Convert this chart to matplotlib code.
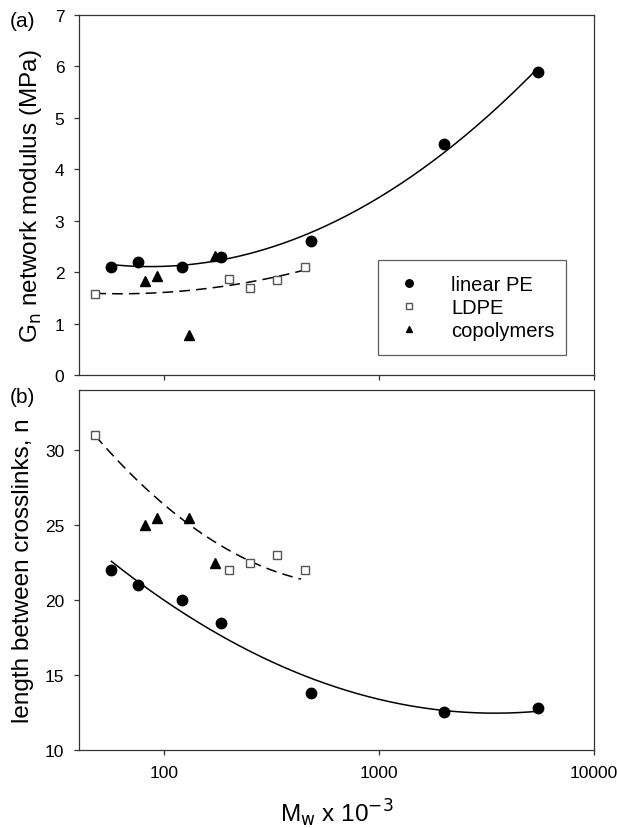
import numpy as np
import matplotlib
matplotlib.use('Agg')
import matplotlib.pyplot as plt

plt.rcParams['font.family'] = ['Liberation Sans', 'DejaVu Sans']

# molecular weights (x 10^-3)
mw_pe = [57, 76, 121, 185, 482, 2006, 5490]
mw_ldpe = [48, 200, 250, 334, 452]
mw_co = [82, 93, 131, 172]

# (a) network modulus, MPa
gn_pe = [2.1, 2.2, 2.1, 2.3, 2.6, 4.5, 5.9]
gn_ldpe = [1.58, 1.87, 1.69, 1.85, 2.1]
gn_co = [1.82, 1.92, 0.77, 2.32]

# (b) length between crosslinks
n_pe = [22.0, 21.0, 20.0, 18.5, 13.8, 12.5, 12.8]
n_ldpe = [31.0, 22.0, 22.5, 23.0, 22.0]
n_co = [25.0, 25.5, 25.5, 22.5]

# dashed trend line of (b)
n_branch_fit_x = [48, 82, 131, 250, 434]
n_branch_fit_y = [31.0, 27.3, 25.2, 22.56, 21.4]


def fit_line(ax, x, y, ls):
    # quadratic regression in log10(Mw)
    lx = np.log10(x)
    c = np.polyfit(lx, y, 2)
    xs = np.linspace(lx.min(), lx.max(), 200)
    ax.plot(10**xs, np.polyval(c, xs), color='black', lw=1.1, ls=ls,
            dashes=(7, 4) if ls == '--' else (None, None))


def markers(ax, x1, y1, x2, y2, x3, y3):
    ax.plot(x1, y1, 'o', color='black', ms=7.5, ls='none', label='linear PE')
    ax.plot(x2, y2, 's', mfc='white', mec='#555555', mew=1.0, ms=6, ls='none', label='LDPE')
    ax.plot(x3, y3, '^', color='black', ms=6.5, ls='none', label='copolymers')


fig = plt.figure(figsize=(6.17, 8.29), dpi=100)
ax1 = fig.add_axes([0.128, 0.5464, 0.835, 0.4343])
ax2 = fig.add_axes([0.128, 0.0941, 0.835, 0.4342])

for ax in (ax1, ax2):
    ax.set_xscale('log')
    ax.set_xlim(40.3, 10000)
    ax.xaxis.set_minor_locator(matplotlib.ticker.NullLocator())
    ax.tick_params(direction='out', length=3.5, width=0.9, labelsize=12.5,
                   top=False, right=False, color='#333333', pad=7)
    for s in ax.spines.values():
        s.set_color('#333333')
        s.set_linewidth(0.9)

# panel (a)
fit_line(ax1, mw_pe, gn_pe, '-')
fit_line(ax1, mw_ldpe, gn_ldpe, '--')
markers(ax1, mw_pe, gn_pe, mw_ldpe, gn_ldpe, mw_co, gn_co)
ax1.set_ylim(0, 7)
ax1.set_yticks(range(0, 8))
ax1.tick_params(axis='x', labelbottom=False)
ax1.set_ylabel(r'G$_\mathrm{n}$ network modulus (MPa)', fontsize=17.5, labelpad=8)
leg = ax1.legend(loc='lower left', bbox_to_anchor=(0.58, 0.056, 0.365, 0.28),
                 mode='expand', fontsize=14.5, frameon=True, fancybox=False,
                 borderpad=0.75, labelspacing=0.2, handletextpad=1.3,
                 handlelength=1.6, borderaxespad=0, markerscale=0.72)
leg.get_frame().set_edgecolor('#333333')
leg.get_frame().set_linewidth(0.9)
fig.text(0.036, 0.974, '(a)', fontsize=15, ha='center', va='center')

# panel (b)
fit_line(ax2, mw_pe, n_pe, '-')
fit_line(ax2, n_branch_fit_x, n_branch_fit_y, '--')
markers(ax2, mw_pe, n_pe, mw_ldpe, n_ldpe, mw_co, n_co)
ax2.set_ylim(10, 34)
ax2.set_yticks([10, 15, 20, 25, 30])
ax2.set_xticks([100, 1000, 10000])
ax2.set_xticklabels(['100', '1000', '10000'])
ax2.set_ylabel('length between crosslinks, n', fontsize=17.5, labelpad=8)
ax2.set_xlabel(r'M$_\mathrm{w}$ x 10$^{-3}$', fontsize=17.5, labelpad=12)
fig.text(0.036, 0.521, '(b)', fontsize=15, ha='center', va='center')

fig.savefig('out.png', dpi=100)
